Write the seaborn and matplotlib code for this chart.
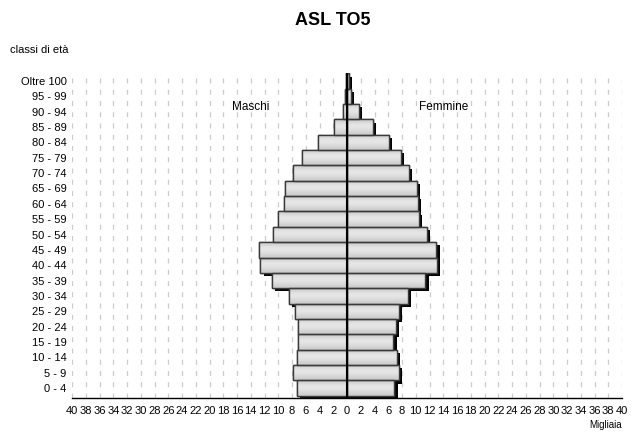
import matplotlib
matplotlib.use("Agg")
import matplotlib.pyplot as plt
import matplotlib.patheffects as pe
import numpy as np
import pandas as pd
import seaborn as sns

# classi di età, dall'alto verso il basso
classi = ["Oltre 100", "95 - 99", "90 - 94", "85 - 89", "80 - 84", "75 - 79",
          "70 - 74", "65 - 69", "60 - 64", "55 - 59", "50 - 54", "45 - 49",
          "40 - 44", "35 - 39", "30 - 34", "25 - 29", "20 - 24", "15 - 19",
          "10 - 14", "5 - 9", "0 - 4"]

# migliaia di residenti
maschi = [0.1, 0.3, 0.55, 1.85, 4.2, 6.6, 7.9, 9.0, 9.2, 10.1, 10.8, 12.8,
          12.6, 10.9, 8.4, 7.5, 7.1, 7.1, 7.3, 7.8, 7.25]
femmine = [0.3, 0.6, 1.7, 3.8, 6.1, 7.8, 9.0, 10.2, 10.3, 10.5, 11.6, 13.0,
           13.1, 11.4, 8.9, 7.6, 7.1, 6.75, 7.3, 7.6, 6.9]

df = pd.DataFrame({"classe": classi,
                   "maschi": [-v for v in maschi],
                   "femmine": femmine})

sns.set_style("white")
plt.rcParams['font.family'] = ['Liberation Sans', 'DejaVu Sans']
plt.rcParams['text.color'] = 'black'
plt.rcParams['xtick.color'] = 'black'
plt.rcParams['ytick.color'] = 'black'

fig = plt.figure(figsize=(6.34, 4.34), dpi=100)
ax = fig.add_axes([0.1136, 0.083, 0.8675, 0.748])

ombra = [pe.SimplePatchShadow(offset=(2.3, -2.3), shadow_rgbFace='black', alpha=1.0), pe.Normal()]

for col in ["maschi", "femmine"]:
    sns.barplot(data=df, x=col, y="classe", order=classi, orient="h",
                color="#d6d6d6", width=1.0, edgecolor="#3a3a3a", linewidth=1.0,
                saturation=1, ax=ax, zorder=2)

# sfumatura dentro le barre
grad = np.array([[0.80], [0.87], [0.91], [0.89], [0.85], [0.80]])
for p in ax.patches:
    p.set_path_effects(ombra)
for p in list(ax.patches):
    x0, y0 = p.get_x(), p.get_y()
    w, h = p.get_width(), p.get_height()
    im = ax.imshow(grad, cmap="gray", vmin=0, vmax=1, aspect="auto",
                   extent=(x0, x0 + w, y0 + h, y0), zorder=2.5, interpolation="bicubic")
    im.set_clip_path(p)

# bordi sopra la sfumatura
for col in ["maschi", "femmine"]:
    sns.barplot(data=df, x=col, y="classe", order=classi, orient="h",
                fill=False, width=1.0, edgecolor="#3a3a3a", linewidth=1.0,
                ax=ax, zorder=3)

ax.axvline(0, color="black", lw=1.5, zorder=4)

ticks = np.arange(-40, 41, 2)
ax.set_xlim(-40, 40)
ax.set_ylim(len(classi) - 0.35, -0.5)
ax.set_xticks(ticks)
ax.set_xticklabels([str(abs(t)) for t in ticks], fontsize=8)
for t in ticks:
    ax.axvline(t, color="#cccccc", lw=0.9, ls=(0, (4, 5)), zorder=0)
ax.tick_params(axis="x", direction="inout", length=5, width=0.8, color="black", pad=3)
ax.tick_params(axis="y", length=0, labelsize=8, pad=4)
ax.set_xlabel("")
ax.set_ylabel("")
for s in ["top", "right", "left"]:
    ax.spines[s].set_visible(False)
ax.spines["bottom"].set_color("black")
ax.spines["bottom"].set_linewidth(1.0)

ax.text(-14, 1.7, "Maschi", ha="center", va="center", fontsize=8.5)
ax.text(14, 1.7, "Femmine", ha="center", va="center", fontsize=8.5)

fig.text(0.525, 0.953, "ASL TO5", ha="center", va="center", fontsize=13, fontweight="bold")
fig.text(0.016, 0.885, "classi di età", ha="left", va="center", fontsize=8)
fig.text(0.981, 0.02, "Migliaia", ha="right", va="center", fontsize=7)

fig.savefig("out.png", dpi=100)
